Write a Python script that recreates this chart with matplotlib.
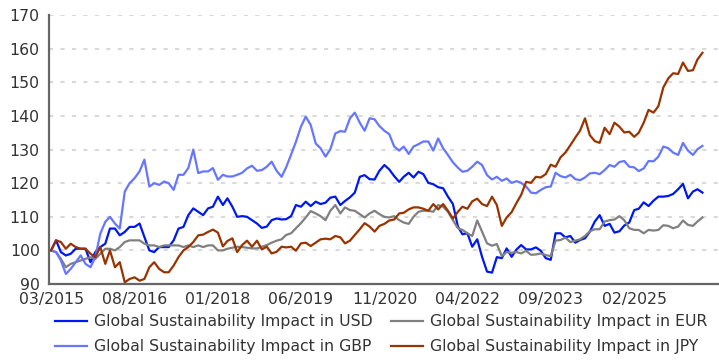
import matplotlib
matplotlib.use("Agg")
import matplotlib.pyplot as plt
import matplotlib.dates as mdates
import numpy as np
import pandas as pd

# monthly index levels, rebased to 100 at 03/2015
months = pd.date_range("2015-03-01", periods=134, freq="MS")

usd = [100, 103, 99.5, 98.5, 99, 100.5, 100.5, 100.5, 96.5, 99.5,
       101, 102, 106.5, 106.5, 104.5, 105.5, 107, 107, 108, 104,
       100, 99.5, 101, 101, 101, 103, 106.5, 107, 110.5, 112.5,
       111.5, 110.5, 112.5, 113, 116, 113.5, 115.5, 113, 110, 110.2,
       110, 109, 108, 106.7, 107.1, 109, 109.5, 109.2, 109.3, 110.2,
       113.5, 113, 114.5, 113.2, 114.5, 113.8, 114.2, 115.7, 116, 113.5,
       114.7, 115.8, 117.2, 121.9, 122.4, 121.2, 121.1, 123.7, 125.4, 124.1,
       122.1, 120.4, 121.9, 123.1, 121.7, 123.4, 122.7, 120.1, 119.7, 118.8,
       118.5, 116, 113.8, 107.1, 104.8, 105.1, 101.1, 103.3, 98.1, 93.7,
       93.4, 98, 97.7, 100.6, 98.1, 100.3, 101.6, 100.3, 100.3, 100.9,
       99.9, 97.7, 97.2, 105.1, 105.1, 103.9, 104.3, 102.3, 103.1, 103.6,
       105.6, 108.6, 110.5, 107.3, 107.9, 105.3, 105.7, 107.4, 108.3, 112,
       112.4, 114.3, 113.2, 114.8, 116, 116, 116.2, 116.8, 118.2, 119.8,
       115.5, 117.5, 118.2, 117.2]

eur = [100, 99.5, 97.5, 95, 96, 96.5, 97, 97.5, 98, 97.5,
       99, 100.5, 100.5, 100, 101, 102.5, 103, 103, 103, 102,
       101.5, 101.5, 101, 101.5, 101.5, 101.5, 101.5, 101, 101.5, 101,
       101.5, 101, 101.5, 101.5, 100, 100, 100.5, 100.8, 101.1, 101,
       100.8, 100.6, 100.6, 101.1, 101.6, 102.3, 102.9, 103.3, 104.6, 105.1,
       106.6, 108.1, 109.8, 111.7, 111, 110.2, 109, 111.8, 113.5, 111,
       112.8, 112, 111.8, 110.8, 109.8, 111, 111.8, 110.8, 110, 109.8,
       110.2, 109, 108.3, 107.9, 110, 111.5, 111.8, 111.8, 111.5, 113.5,
       113, 111.5, 109, 106.6, 106.1, 105.1, 104.3, 108.9, 105.6, 102.1,
       101.4, 101.9, 98.3, 99.5, 99.3, 99.5, 99.1, 99.9, 98.7, 98.8,
       99.1, 98.6, 98.3, 102.9, 103.1, 103.8, 102.5, 102.9, 103.3, 104.3,
       105.7, 106.3, 106.3, 108.6, 109, 109.2, 110.2, 109, 106.6, 106.1,
       106.1, 105.1, 106.1, 105.9, 106.1, 107.5, 107.3, 106.6, 107.1, 108.9,
       107.6, 107.3, 108.6, 109.8]

gbp = [100, 99.5, 97, 93, 94.5, 96.5, 98.5, 96, 95, 98,
       105, 108.5, 110, 108, 106.5, 117.5, 120, 121.5, 123.5, 127,
       119, 120, 119.5, 120.5, 120, 118, 122.5, 122.5, 124.5, 130,
       123, 123.5, 123.5, 124.5, 121, 122.5, 122, 122, 122.5, 123.1,
       124.4, 125.2, 123.7, 123.9, 124.9, 126.4, 123.7, 121.9, 124.7, 128.5,
       132.3, 136.8, 139.8, 137.3, 131.8, 130.4, 127.9, 130.1, 134.8, 135.5,
       135.3, 139.3, 141, 138, 135.6, 139.3, 139, 137, 135.6, 134.6,
       130.9, 129.7, 130.9, 128.7, 130.9, 131.6, 132.4, 132.4, 129.7, 133.3,
       130.4, 128.4, 126.2, 124.6, 123.4, 123.7, 124.9, 126.4, 125.4, 122.4,
       121.1, 121.9, 120.7, 121.4, 120.1, 120.6, 120.1, 119, 117.2, 117,
       118, 118.8, 119, 123.1, 122.1, 121.7, 122.5, 121.2, 120.9, 121.7,
       122.9, 123.1, 122.7, 123.9, 125.4, 124.9, 126.3, 126.6, 124.9, 124.7,
       123.6, 124.4, 126.6, 126.5, 127.9, 130.9, 130.4, 129.1, 128.4, 132,
       129.7, 128.4, 130.1, 131.1]

jpy = [100, 103, 102.5, 100.5, 102, 101, 100.5, 100.5, 99, 98,
       101, 96, 100, 95, 96.5, 90.5, 91.5, 92, 91, 91.5,
       95, 96.5, 94.5, 93.5, 93.5, 95.5, 98, 100, 101, 102.5,
       104.5, 104.7, 105.5, 106.2, 105.3, 101.2, 102.8, 103.6, 99.5, 101.6,
       102.9, 101.1, 102.9, 100.3, 101.1, 99.1, 99.6, 101.1, 100.9, 101.1,
       99.9, 102.1, 102.3, 101.3, 102.3, 103.3, 103.5, 103.3, 104.3, 103.9,
       102.1, 102.9, 104.6, 106.3, 108.1, 107.1, 105.6, 107.3, 107.9, 108.9,
       109.2, 111, 111.2, 112.2, 112.8, 112.8, 112.4, 111.8, 113.8, 112.2,
       113.8, 111.8, 109.5, 111.5, 113, 112.4, 114.6, 115.4, 113.8, 113.2,
       116, 113.5, 107.3, 109.8, 111.4, 114.2, 116.5, 120.4, 120.1, 121.9,
       121.7, 122.7, 125.5, 124.9, 127.7, 129.1, 131.3, 133.6, 135.6, 139.3,
       134.3, 132.5, 132, 136.5, 134.6, 138, 136.8, 135.1, 135.3, 133.8,
       135, 138, 141.8, 141, 142.9, 148.5, 151.2, 152.7, 152.5, 155.9,
       153.4, 153.6, 156.8, 158.8]

tick_labels = ["03/2015", "08/2016", "01/2018", "06/2019",
               "11/2020", "04/2022", "09/2023", "02/2025"]

fig = plt.figure(figsize=(7.19, 3.6), dpi=100)
ax = fig.add_axes([0.0688, 0.211, 0.9312, 0.747])

l_usd, = ax.plot(months, usd, c="#0018f0", lw=1.6, label="Global Sustainability Impact in USD")
l_eur, = ax.plot(months, eur, c="#808080", lw=1.6, label="Global Sustainability Impact in EUR")
l_gbp, = ax.plot(months, gbp, c="#6676ff", lw=1.6, label="Global Sustainability Impact in GBP")
l_jpy, = ax.plot(months, jpy, c="#993300", lw=1.6, label="Global Sustainability Impact in JPY")

ax.set_ylim(90, 170)
ax.set_yticks(range(90, 171, 10))
ax.set_xlim(months[0] - pd.Timedelta(days=10), months[0] + pd.DateOffset(months=136) + pd.Timedelta(days=12))
ax.set_xticks(pd.to_datetime(tick_labels, format="%m/%Y"))
ax.xaxis.set_major_formatter(mdates.DateFormatter("%m/%Y"))

ax.grid(axis="y", color="#d9d9d9", lw=1.5, linestyle=(0, (2, 3.5)))
ax.set_axisbelow(True)
for side in ("top", "right"):
    ax.spines[side].set_visible(False)
for side in ("left", "bottom"):
    ax.spines[side].set_color("#666666")
    ax.spines[side].set_linewidth(1.6)

ax.tick_params(axis="both", length=0, labelsize=11.3, colors="#333333")
ax.tick_params(axis="y", pad=7)
ax.tick_params(axis="x", pad=6)

# two columns, filled column-wise: USD/EUR on top row, GBP/JPY below
ax.legend(handles=[l_usd, l_gbp, l_eur, l_jpy],
          loc="upper center", bbox_to_anchor=(0.53, 0.166), bbox_transform=fig.transFigure,
          ncol=2, frameon=False, fontsize=11.3, handlelength=2.0, handletextpad=0.45,
          columnspacing=1.2, labelspacing=0.62, labelcolor="#333333")

fig.savefig("out.png", dpi=100)
